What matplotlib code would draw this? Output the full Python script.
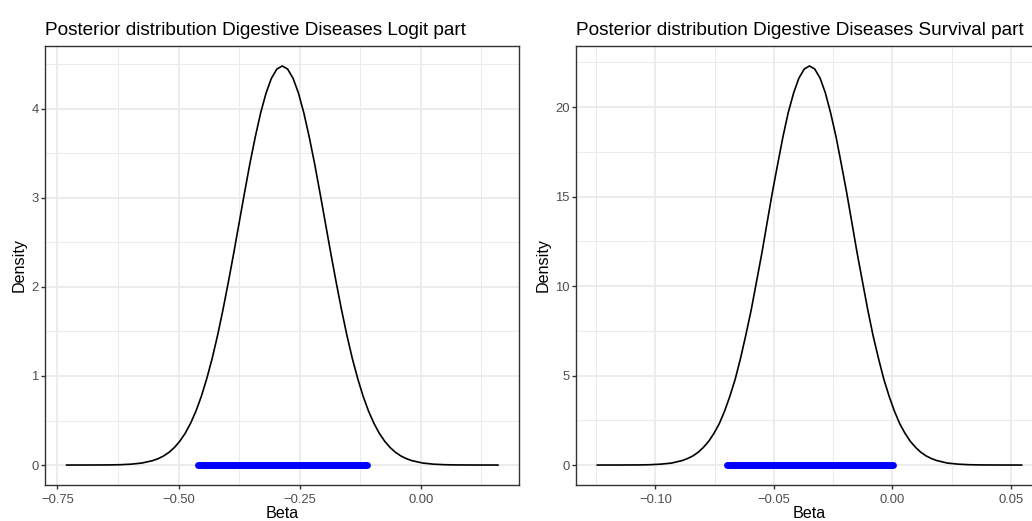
import matplotlib
matplotlib.use("Agg")
import matplotlib.pyplot as plt
from matplotlib.ticker import MultipleLocator

plt.rcParams['font.family'] = ['Liberation Sans', 'DejaVu Sans']

# Logit part: density curve
logit_x = [-0.731, -0.6865, -0.642, -0.6198, -0.5975, -0.5753, -0.553, -0.5419, -0.5308, -0.5196,
           -0.5085, -0.4974, -0.4863, -0.4751, -0.464, -0.4529, -0.4418, -0.4306, -0.4195, -0.4084,
           -0.3973, -0.3861, -0.375, -0.3639, -0.3528, -0.3416, -0.3305, -0.3194, -0.3083, -0.2971,
           -0.286,
           -0.2749, -0.2637, -0.2526, -0.2415, -0.2304, -0.2192, -0.2081, -0.197, -0.1859, -0.1747,
           -0.1636, -0.1525, -0.1414, -0.1302, -0.1191, -0.108, -0.0969, -0.0857, -0.0746, -0.0635,
           -0.0524, -0.0412, -0.0301, -0.019, 0.0033, 0.0255, 0.0478, 0.070, 0.1145, 0.159]
logit_y = [0.0, 0.0002, 0.0015, 0.004, 0.010, 0.023, 0.050, 0.072, 0.102, 0.143,
           0.197, 0.267, 0.356, 0.469, 0.606, 0.772, 0.969, 1.196, 1.454, 1.741,
           2.051, 2.379, 2.717, 3.055, 3.382, 3.685, 3.954, 4.176, 4.342, 4.445,
           4.480,
           4.445, 4.342, 4.176, 3.954, 3.685, 3.382, 3.055, 2.717, 2.379, 2.051,
           1.741, 1.454, 1.196, 0.969, 0.772, 0.606, 0.469, 0.356, 0.267, 0.197,
           0.143, 0.102, 0.072, 0.050, 0.023, 0.010, 0.004, 0.0015, 0.0002, 0.0]
logit_ci = [-0.460, -0.111]

# Survival part
surv_x = [-0.1245, -0.1156, -0.1066, -0.1021, -0.0977, -0.0932, -0.0887, -0.0865, -0.0842, -0.0820,
          -0.0798, -0.0775, -0.0753, -0.0730, -0.0708, -0.0686, -0.0663, -0.0641, -0.0619, -0.0596,
          -0.0574, -0.0551, -0.0529, -0.0507, -0.0484, -0.0462, -0.0440, -0.0417, -0.0395, -0.0372,
          -0.0350,
          -0.0328, -0.0305, -0.0283, -0.0261, -0.0238, -0.0216, -0.0193, -0.0171, -0.0149, -0.0126,
          -0.0104, -0.0082, -0.0059, -0.0037, -0.0014, 0.0008, 0.0030, 0.0053, 0.0075, 0.0098,
          0.0120, 0.0142, 0.0165, 0.0187, 0.0232, 0.0277, 0.0321, 0.0366, 0.0456, 0.0545]
surv_y = [0.0, 0.001, 0.007, 0.02, 0.05, 0.11, 0.25, 0.36, 0.51, 0.71,
          0.98, 1.33, 1.77, 2.33, 3.02, 3.84, 4.82, 5.96, 7.24, 8.66,
          10.21, 11.84, 13.53, 15.21, 16.83, 18.34, 19.68, 20.79, 21.61, 22.13,
          22.30,
          22.13, 21.61, 20.79, 19.68, 18.34, 16.83, 15.21, 13.53, 11.84, 10.21,
          8.66, 7.24, 5.96, 4.82, 3.84, 3.02, 2.33, 1.77, 1.33, 0.98,
          0.71, 0.51, 0.36, 0.25, 0.11, 0.05, 0.02, 0.007, 0.001, 0.0]
surv_ci = [-0.0700, 0.0004]

titles = ["Posterior distribution Digestive Diseases Logit part",
          "Posterior distribution Digestive Diseases Survival part"]


def minus_fmt(v, p):
    return f"{v:.2f}".replace('-', '\u2212')


def style_axes(ax, xmajor, ymajor, xlim, ylim, title):
    ax.set_xlim(*xlim)
    ax.set_ylim(*ylim)
    ax.xaxis.set_major_locator(MultipleLocator(xmajor))
    ax.xaxis.set_minor_locator(MultipleLocator(xmajor / 2))
    ax.yaxis.set_major_locator(MultipleLocator(ymajor))
    ax.yaxis.set_minor_locator(MultipleLocator(ymajor / 2))
    ax.xaxis.set_major_formatter(plt.FuncFormatter(minus_fmt))
    ax.grid(which='major', color='#EBEBEB', linewidth=1.3)
    ax.grid(which='minor', color='#EBEBEB', linewidth=0.7)
    ax.set_axisbelow(True)
    for s in ax.spines.values():
        s.set_color('#333333')
        s.set_linewidth(1.0)
    ax.tick_params(which='major', length=2.7, width=1.0, color='#333333',
                   labelcolor='#4D4D4D', labelsize=9.4, pad=2)
    ax.tick_params(axis='x', which='major', pad=3.5)
    ax.tick_params(which='minor', length=0)
    ax.set_xlabel("Beta", fontsize=11.6, labelpad=0)
    ax.set_ylabel("Density", fontsize=11.6, labelpad=3)
    ax.set_title(title, loc='left', fontsize=13.7, pad=8)


fig = plt.figure(figsize=(10.32, 5.21), dpi=100)
ax1 = fig.add_axes([45 / 1032, 36 / 521, 474 / 1032, 439 / 521])
ax2 = fig.add_axes([576 / 1032, 36 / 521, 467 / 1032, 439 / 521])

ax1.plot(logit_x, logit_y, color='black', linewidth=1.2)
ax1.plot(logit_ci, [0, 0], color='blue', linewidth=5, solid_capstyle='round')
style_axes(ax1, 0.25, 1, (-0.7755, 0.2025), (-0.224, 4.704), titles[0])

ax2.plot(surv_x, surv_y, color='black', linewidth=1.2)
ax2.plot(surv_ci, [0, 0], color='blue', linewidth=5, solid_capstyle='round')
style_axes(ax2, 0.05, 5, (-0.1335, 0.0635), (-1.115, 23.415), titles[1])

fig.savefig("out.png", dpi=100)
